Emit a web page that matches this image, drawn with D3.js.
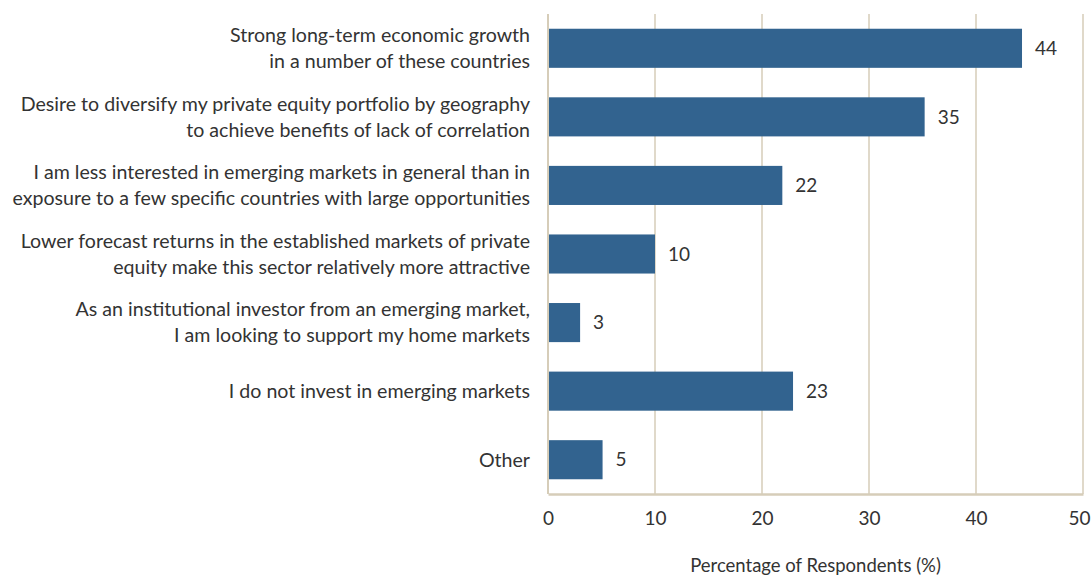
<!DOCTYPE html>
<html>
<head>
<meta charset="utf-8">
<script src="https://cdn.jsdelivr.net/npm/d3@7"></script>
<style>
  body { margin: 0; background: #fff; }
  svg text { font-family: Lato, "Open Sans", sans-serif; fill: #333; }
</style>
</head>
<body>
<div id="chart"></div>
<script>
// 类别(每行一段文字)
var categories = [
  ["Strong long-term economic growth", "in a number of these countries"],
  ["Desire to diversify my private equity portfolio by geography", "to achieve benefits of lack of correlation"],
  ["I am less interested in emerging markets in general than in", "exposure to a few specific countries with large opportunities"],
  ["Lower forecast returns in the established markets of private", "equity make this sector relatively more attractive"],
  ["As an institutional investor from an emerging market,", "I am looking to support my home markets"],
  ["I do not invest in emerging markets"],
  ["Other"]
];
// 柱长(标签显示取整)
var values = [44.3, 35.2, 21.9, 10, 3, 22.9, 5.1];
var xTicks = [0, 10, 20, 30, 40, 50];
var xTitle = "Percentage of Respondents (%)";

var width = 1092, height = 578,
  padding = { left: 548, right: 9, top: 14, bottom: 84 };

var svg = d3.select("#chart").append("svg")
  .attr("width", width).attr("height", height);

var x = d3.scaleLinear()
  .domain([0, 50])
  .range([padding.left, width - padding.right]);

var y = d3.scaleBand()
  .domain(d3.range(categories.length))
  .range([padding.top, height - padding.bottom])
  .paddingInner(0.43)
  .paddingOuter(0.215);

//网格线
svg.selectAll(".grid")
  .data(xTicks)
  .enter()
  .append("line")
  .attr("class", "grid")
  .attr("x1", function(d) { return x(d); })
  .attr("x2", function(d) { return x(d); })
  .attr("y1", padding.top)
  .attr("y2", height - padding.bottom)
  .attr("stroke", "#d6cdb9")
  .attr("stroke-width", function(d) { return d === 0 ? 2 : 1.5; });

//x轴
var xAxis = d3.axisBottom(x).tickValues(xTicks).tickSize(0).tickPadding(18);
var gx = svg.append("g")
  .attr("transform", "translate(0," + (height - padding.bottom) + ")")
  .call(xAxis);
gx.select(".domain").attr("stroke", "#d6cdb9").attr("stroke-width", 2.5);
gx.selectAll("text")
  .style("font-size", "19px")
  .attr("fill", "#333")
  .attr("dx", function(d) { return d === 50 ? -4 : 0; });

svg.append("text")
  .attr("x", (x(0) + x(50)) / 2)
  .attr("y", 572)
  .attr("text-anchor", "middle")
  .style("font-size", "18.5px")
  .text(xTitle);

//柱子
svg.selectAll(".bar")
  .data(values)
  .enter()
  .append("rect")
  .attr("class", "bar")
  .attr("x", x(0) + 1)
  .attr("y", function(d, i) { return y(i); })
  .attr("width", function(d) { return x(d) - x(0) - 1; })
  .attr("height", y.bandwidth())
  .attr("fill", "#32638f");

//数值
svg.selectAll(".val")
  .data(values)
  .enter()
  .append("text")
  .attr("class", "val")
  .attr("x", function(d) { return x(d) + 13; })
  .attr("y", function(d, i) { return y(i) + y.bandwidth() / 2; })
  .attr("dy", "0.35em")
  .style("font-size", "19px")
  .text(function(d) { return Math.round(d); });

//类别标签
var lineH = 26;
svg.selectAll(".cat")
  .data(categories)
  .enter()
  .append("text")
  .attr("class", "cat")
  .attr("text-anchor", "end")
  .style("font-size", "19.6px")
  .each(function(lines, i) {
    var cy = y(i) + y.bandwidth() / 2,
      y0 = cy - (lines.length - 1) * lineH / 2;
    d3.select(this).selectAll("tspan")
      .data(lines)
      .enter()
      .append("tspan")
      .attr("x", 530)
      .attr("y", function(d, j) { return y0 + j * lineH; })
      .attr("dy", "0.35em")
      .text(function(d) { return d; });
  });
</script>
</body>
</html>
